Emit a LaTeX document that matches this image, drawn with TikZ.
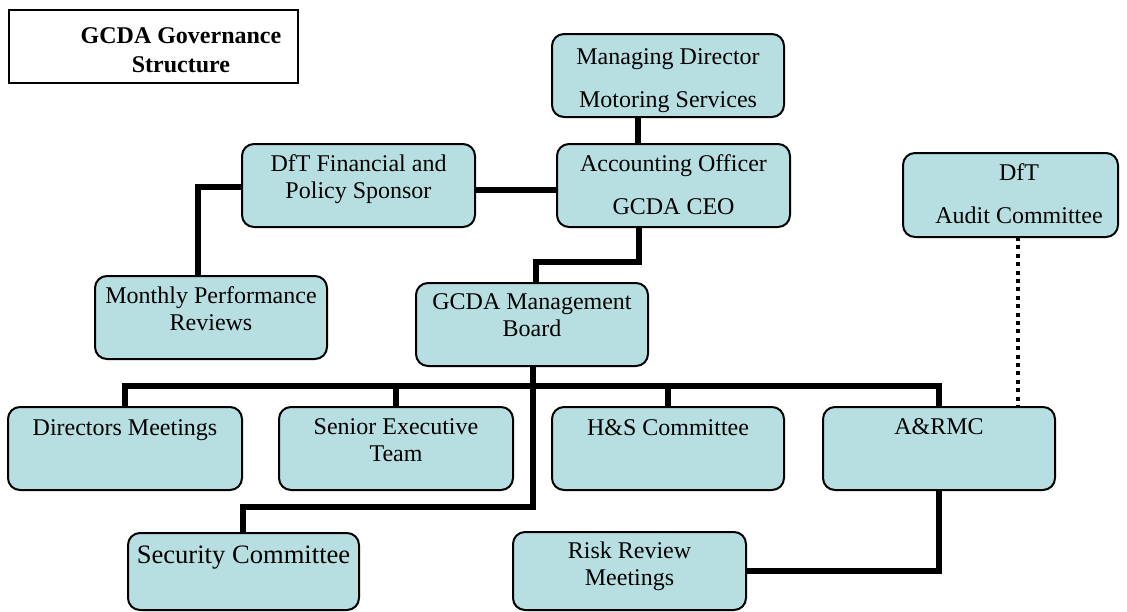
\documentclass[tikz,border=0pt]{standalone}
\usepackage{fontspec}
\setmainfont{Liberation Serif}
\definecolor{boxfill}{RGB}{183,223,226}
% top-aligned, centred text block: width, height, rise of first baseline, text
\newcommand{\orgtext}[4]{\parbox[c][#2][t]{#1}{\centering\rule{0pt}{#3}#4}}
\tikzset{
  orgbox/.style={draw=black, line width=1pt, fill=boxfill, rounded corners=6pt,
    inner sep=0pt, outer sep=0pt, font=\fontsize{12pt}{13.8pt}\selectfont},
  titlebox/.style={draw=black, line width=1.3pt, fill=white, inner sep=0pt,
    outer sep=0pt, font=\bfseries\fontsize{12pt}{14.5pt}\selectfont},
  link/.style={line width=2.6pt},
  dotlink/.style={line width=2.3pt, dash pattern=on 2pt off 2.2pt},
}
\begin{document}
\begin{tikzpicture}[x=0.5pt,y=-0.5pt]
\useasboundingbox (0,0) rectangle (1127,611);

% title (text set off towards the right of its frame)
\node[titlebox] (title) at (153.5,46.5)
  {\orgtext{144.5pt}{36.5pt}{16.5pt}{\hspace*{27.5pt}GCDA Governance\\\hspace*{27.5pt}Structure}};

% upper tier
\node[orgbox] (md) at (668,75.5)
  {\orgtext{116pt}{41.5pt}{15pt}{Managing Director\\[7.7pt]Motoring Services}};
\node[orgbox] (acc) at (673.5,185.5)
  {\orgtext{116.5pt}{41.5pt}{13.5pt}{Accounting Officer\\[7.7pt]GCDA CEO}};
\node[orgbox] (dfin) at (358.5,185.5)
  {\orgtext{116.5pt}{41.5pt}{13.5pt}{DfT Financial and\\Policy Sponsor}};
\node[orgbox] (audit) at (1010.5,195)
  {\orgtext{107.5pt}{42pt}{13.5pt}{\hspace*{8.5pt}DfT\\[7.7pt]\hspace*{8.5pt}Audit Committee}};
\node[orgbox] (monthly) at (211,317.5)
  {\orgtext{116pt}{41.5pt}{13.5pt}{Monthly Performance\\Reviews}};
\node[orgbox] (mgmt) at (532,324.5)
  {\orgtext{116pt}{41.5pt}{13pt}{GCDA Management\\Board}};

% committees
\node[orgbox] (dirs) at (125,448.5)
  {\orgtext{117pt}{41.5pt}{14pt}{Directors Meetings}};
\node[orgbox] (senior) at (396,448.5)
  {\orgtext{117pt}{41.5pt}{13.5pt}{Senior Executive\\Team}};
\node[orgbox] (hs) at (668,448.5)
  {\orgtext{116pt}{41.5pt}{14pt}{H\&S Committee}};
\node[orgbox] (armc) at (939,448.5)
  {\orgtext{116pt}{41.5pt}{13.5pt}{A\&RMC}};
\node[orgbox, font=\fontsize{13.3pt}{16pt}\selectfont] (sec) at (243.5,571.5)
  {\orgtext{115.5pt}{38.5pt}{15pt}{Security Committee}};
\node[orgbox] (risk) at (629.5,571)
  {\orgtext{116.5pt}{39pt}{13pt}{Risk Review\\Meetings}};

% connector routing points
\coordinate (spine) at (638,0);
\coordinate (ceo) at (639,0);
\coordinate (board) at (536,0);
\coordinate (boardout) at (533,0);
\coordinate (secdrop) at (243,0);
\coordinate (sponsor) at (198,0);
\coordinate (audline) at (1018,0);
\coordinate (bus) at (0,386);
\coordinate (ceobend) at (0,262);
\coordinate (secbus) at (0,507);

% connectors
\draw[link] (md.south -| spine) -- (acc.north -| spine);
\draw[link] (dfin.east |- 0,190) -- (acc.west |- 0,190);
\draw[link] (dfin.west |- 0,187) -| (monthly.north -| sponsor);
\draw[link] (acc.south -| ceo) -- (ceo |- ceobend) -| (mgmt.north -| board);
\draw[link] (dirs.north) -- (dirs.north |- bus) -- (armc.north |- bus) -- (armc.north);
\draw[link] (senior.north) -- (senior.north |- bus);
\draw[link] (hs.north) -- (hs.north |- bus);
\draw[link] (mgmt.south -| boardout) -- (boardout |- secbus) -| (sec.north -| secdrop);
\draw[link] (armc.south) |- (risk.east);
\draw[dotlink] (audit.south -| audline) -- (armc.north -| audline);
\end{tikzpicture}
\end{document}
